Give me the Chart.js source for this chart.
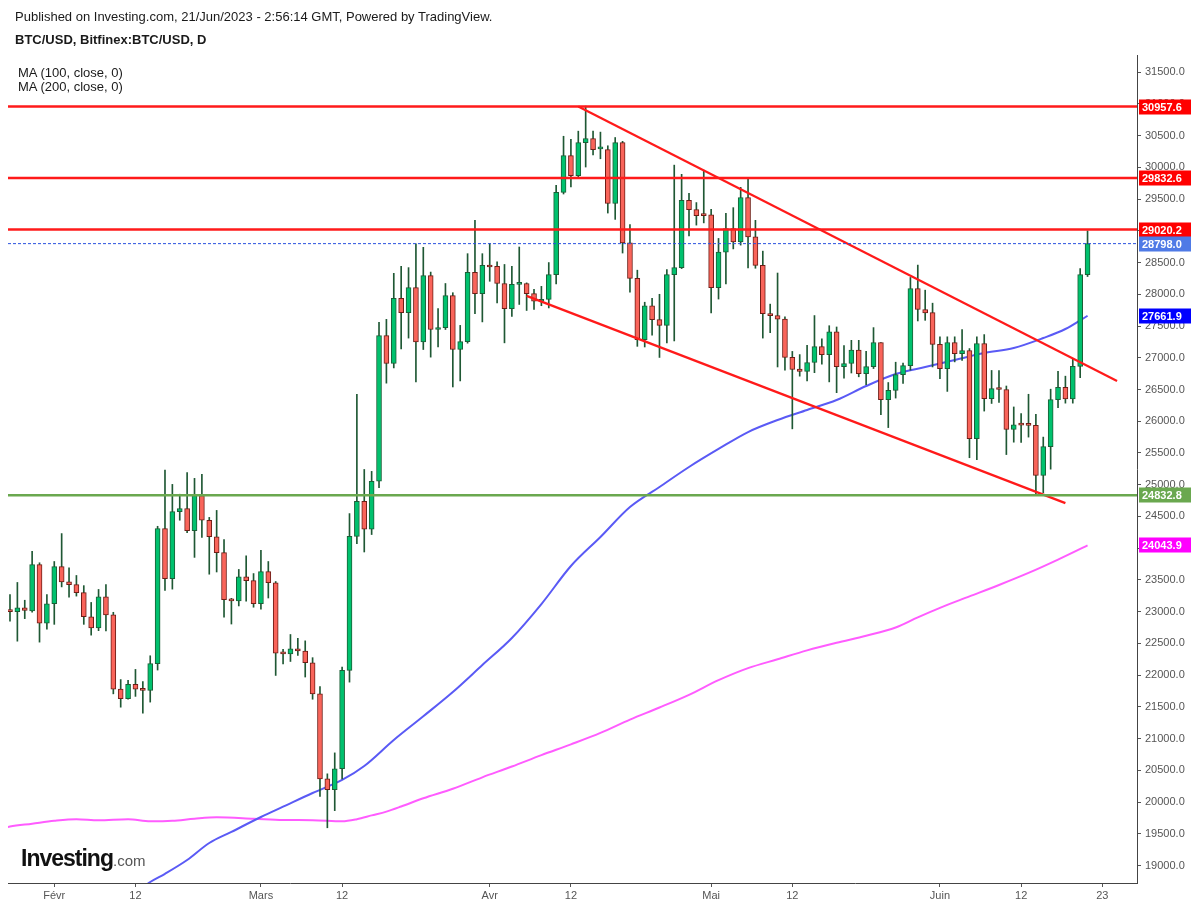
<!DOCTYPE html>
<html>
<head>
<meta charset="utf-8">
<title>BTC/USD, Bitfinex:BTC/USD, D</title>
<script src="https://cdn.jsdelivr.net/npm/chart.js@4.4.0/dist/chart.umd.min.js"></script>
<style>
  body { margin: 0; background: #fff; }
  #wrap { position: relative; width: 1197px; height: 907px; font-family: 'Liberation Sans', Arial, sans-serif; }
  #btcChart { position: absolute; left: 0; top: 0; }
  .txt { position: absolute; white-space: nowrap; color: #1a1a1a; }
</style>
</head>
<body>
<div id="wrap">
  <canvas id="btcChart" width="1197" height="907"></canvas>
  <div class="txt" style="left:15px;top:9px;font-size:13px">Published on Investing.com, 21/Jun/2023 - 2:56:14 GMT, Powered by TradingView.</div>
  <div class="txt" style="left:15px;top:32px;font-size:13px;font-weight:bold">BTC/USD, Bitfinex:BTC/USD, D</div>
  <div class="txt" style="left:18px;top:66px;font-size:13px;line-height:14px">MA (100, close, 0)<br>MA (200, close, 0)</div>
  <div class="txt" style="left:21px;top:845px;color:#111"><span style="font-size:23px;font-weight:bold;letter-spacing:-1px">Investing</span><span style="font-size:15px;color:#555">.com</span></div>
</div>
<script>
// daily candles, Bitfinex BTC/USD
const year = 2023;
const days = [
  '01-26','01-27','01-28','01-29','01-30','01-31',
  '02-01','02-02','02-03','02-04','02-05','02-06','02-07','02-08','02-09','02-10','02-11','02-12','02-13','02-14',
  '02-15','02-16','02-17','02-18','02-19','02-20','02-21','02-22','02-23','02-24','02-25','02-26','02-27','02-28',
  '03-01','03-02','03-03','03-04','03-05','03-06','03-07','03-08','03-09','03-10','03-11','03-12','03-13','03-14','03-15','03-16',
  '03-17','03-18','03-19','03-20','03-21','03-22','03-23','03-24','03-25','03-26','03-27','03-28','03-29','03-30','03-31',
  '04-01','04-02','04-03','04-04','04-05','04-06','04-07','04-08','04-09','04-10','04-11','04-12','04-13','04-14','04-15',
  '04-16','04-17','04-18','04-19','04-20','04-21','04-22','04-23','04-24','04-25','04-26','04-27','04-28','04-29','04-30',
  '05-01','05-02','05-03','05-04','05-05','05-06','05-07','05-08','05-09','05-10','05-11','05-12','05-13','05-14','05-15','05-16',
  '05-17','05-18','05-19','05-20','05-21','05-22','05-23','05-24','05-25','05-26','05-27','05-28','05-29','05-30','05-31',
  '06-01','06-02','06-03','06-04','06-05','06-06','06-07','06-08','06-09','06-10','06-11','06-12','06-13','06-14','06-15',
  '06-16','06-17','06-18','06-19','06-20','06-21'
];
const opens = [
  23030, 23000, 23060, 23010, 23740, 22820, 23125, 23710, 23470, 23425,
  23300, 22920, 22745, 23235, 22950, 21780, 21630, 21855, 21790, 21760,
  22180, 24310, 23520, 24575, 24625, 24275, 24830, 24440, 24180, 23930,
  23190, 23170, 23550, 23490, 23125, 23630, 23455, 22350, 22335, 22415,
  22380, 22195, 21705, 20365, 20195, 20525, 22075, 24185, 24740, 24300,
  25055, 27350, 26910, 27935, 27710, 28105, 27250, 28295, 27445, 27475,
  27980, 27130, 27255, 28345, 28010, 28460, 28440, 28170, 27775, 28155,
  28170, 28010, 27890, 27920, 28310, 29605, 30185, 29870, 30390, 30455,
  30290, 30280, 29430, 30390, 28810, 28250, 27285, 27820, 27600, 27510,
  28310, 28420, 29480, 29335, 29250, 29250, 28105, 28665, 29035, 28825,
  29525, 28905, 28455, 27695, 27665, 27610, 27005, 26820, 26785, 26925,
  27175, 27050, 27410, 26860, 26910, 27120, 26750, 26860, 27240, 26340,
  26485, 26735, 26875, 28090, 27760, 27710, 27210, 26830, 27240, 27065,
  27115, 25725, 27225, 26355, 26515, 26500, 25870, 25945, 25940, 25935,
  25145, 25600, 26340, 26535, 26350, 26865, 28310
];
const highs = [
  23270, 23460, 23180, 23950, 23770, 23270, 23790, 24230, 23690, 23570,
  23410, 23145, 23350, 23425, 22990, 21930, 21920, 22090, 21900, 22305,
  24345, 25230, 25005, 24850, 25190, 25100, 25165, 24485, 24595, 24135,
  23210, 23665, 23880, 23600, 23965, 23790, 23475, 22405, 22640, 22580,
  22540, 22275, 21820, 20445, 20775, 22125, 24545, 26425, 25240, 25210,
  27560, 27605, 28330, 28440, 28420, 28795, 28740, 28350, 27775, 28170,
  28025, 27510, 28640, 29165, 28640, 28800, 28510, 28470, 28440, 28745,
  28180, 28080, 28125, 28500, 29715, 30490, 30440, 30570, 30965, 30570,
  30555, 30340, 30470, 30410, 29100, 28380, 27875, 27935, 28000, 28390,
  30035, 29890, 29590, 29445, 29955, 29340, 28880, 29275, 29365, 29685,
  29825, 29165, 28680, 27845, 28335, 27645, 27100, 27050, 27195, 27665,
  27300, 27505, 27485, 27190, 27275, 27275, 27100, 27475, 27240, 26610,
  26930, 26915, 28265, 28460, 28065, 27860, 27330, 27330, 27330, 27445,
  27145, 27330, 27365, 26800, 26800, 26555, 26225, 26120, 26425, 26110,
  25750, 26505, 26785, 26710, 26985, 28405, 29000
];
const lows = [
  22850, 22535, 22890, 22990, 22520, 22725, 22800, 23390, 23230, 23245,
  22800, 22630, 22700, 22695, 21705, 21495, 21620, 21665, 21400, 21575,
  22080, 23335, 23355, 24440, 24245, 23855, 24170, 23590, 23625, 22915,
  22805, 23090, 23165, 23070, 23040, 23215, 21995, 22175, 22215, 22310,
  21970, 21620, 20090, 19595, 19865, 20365, 21890, 24070, 23940, 24215,
  24955, 26600, 26840, 27140, 27310, 26620, 27130, 27010, 27170, 27445,
  26540, 26635, 27230, 27695, 27565, 28205, 27865, 27235, 27650, 27840,
  27745, 27760, 27820, 27785, 28165, 29580, 29690, 29830, 30005, 30195,
  30135, 29280, 29180, 28650, 28035, 27180, 27170, 27355, 27005, 27235,
  27265, 28405, 28920, 29090, 29125, 27705, 27925, 28165, 28715, 28775,
  28415, 28410, 27310, 27395, 26855, 26805, 25880, 26710, 26635, 26765,
  26900, 26620, 26450, 26680, 26760, 26700, 26575, 26830, 26105, 25900,
  26365, 26595, 26805, 27580, 27590, 26855, 26670, 26470, 26935, 26960,
  25425, 25395, 26160, 26280, 26295, 25475, 25670, 25665, 25750, 24860,
  24875, 25245, 26215, 26285, 26285, 26685, 28280
];
const closes = [
  23000, 23060, 23020, 23740, 22820, 23125, 23710, 23470, 23425, 23300,
  22920, 22745, 23235, 22950, 21780, 21630, 21855, 21780, 21760, 22180,
  24310, 23520, 24575, 24625, 24275, 24830, 24440, 24180, 23930, 23190,
  23170, 23550, 23490, 23125, 23630, 23455, 22345, 22335, 22415, 22380,
  22195, 21705, 20365, 20195, 20525, 22075, 24185, 24740, 24300, 25055,
  27350, 26910, 27935, 27710, 28105, 27250, 28295, 27445, 27475, 27980,
  27130, 27255, 28345, 28010, 28455, 28430, 28170, 27775, 28155, 28170,
  28010, 27890, 27920, 28310, 29605, 30185, 29870, 30390, 30455, 30280,
  30300, 29430, 30390, 28810, 28250, 27285, 27820, 27600, 27510, 28310,
  28420, 29480, 29335, 29240, 29240, 28105, 28665, 29035, 28825, 29525,
  28905, 28455, 27695, 27665, 27610, 27005, 26815, 26785, 26925, 27175,
  27050, 27410, 26860, 26910, 27120, 26750, 26860, 27240, 26340, 26485,
  26735, 26875, 28090, 27760, 27705, 27210, 26830, 27240, 27065, 27115,
  25725, 27225, 26355, 26515, 26500, 25870, 25945, 25940, 25935, 25145,
  25600, 26340, 26535, 26350, 26865, 28310, 28798
];

// moving averages
const ma100Days = ['02-12','02-14','02-16','02-19','02-22','02-25','03-01','03-04','03-08','03-12','03-15','03-19',
  '03-23','03-27','03-31','04-04','04-08','04-12','04-16','04-20','04-24','04-28','05-02','05-06','05-10','05-14',
  '05-18','05-22','05-26','05-30','06-03','06-07','06-11','06-15','06-18','06-21'];
const ma100Values = [18560, 18741, 18870, 19087, 19355, 19530, 19765, 19927, 20143, 20348, 20568, 20978,
  21352, 21734, 22159, 22585, 23120, 23719, 24176, 24649, 24964, 25279, 25563, 25830, 26019, 26177,
  26335, 26555, 26744, 26854, 26965, 27075, 27154, 27311, 27453, 27662];
const ma200Days = ['01-25','01-26','01-29','02-01','02-04','02-07','02-11','02-14','02-17','02-20','02-23','02-28',
  '03-04','03-08','03-12','03-14','03-16','03-18','03-20','03-23','03-27','03-31','04-04','04-08','04-12','04-16',
  '04-20','04-24','04-28','05-02','05-06','05-10','05-14','05-18','05-22','05-26','05-29','06-01','06-05','06-09',
  '06-13','06-17','06-21'];
const ma200Values = [19590, 19615, 19660, 19705, 19730, 19713, 19729, 19697, 19705, 19738, 19760, 19738,
  19717, 19715, 19697, 19730, 19790, 19850, 19930, 20060, 20210, 20390, 20560, 20740, 20910, 21090,
  21300, 21490, 21690, 21920, 22110, 22250, 22390, 22510, 22620, 22750, 22910, 23060, 23240, 23420,
  23610, 23820, 24044];

// drawings
const resistanceLevels = [30957.6, 29832.6, 29020.2];
const supportLevels = [24832.8];
const lastPrice = 28798.0;
const upperTrendDays = ['04-13', '06-25'];
const upperTrendValues = [30960, 26635];
const lowerTrendDays = ['04-06', '06-18'];
const lowerTrendValues = [27975, 24710];

// right-hand price tags
const tagValues = [30957.6, 29832.6, 29020.2, 28798.0, 27661.9, 24832.8, 24043.9];
const tagColors = ['#ff0000', '#ff0000', '#ff0000', '#4f7ae6', '#0000ff', '#6aa84f', '#ff00ff'];

// axis ticks
const xTickDays = ['02-01', '02-12', '03-01', '03-12', '04-01', '04-12', '05-01', '05-12', '06-01', '06-12', '06-23'];
const xTickLabels = ['Févr', '12', 'Mars', '12', 'Avr', '12', 'Mai', '12', 'Juin', '12', '23'];
const yTicks = [19000, 19500, 20000, 20500, 21000, 21500, 22000, 22500, 23000, 23500, 24000, 24500, 25000,
  25500, 26000, 26500, 27000, 27500, 28000, 28500, 29000, 29500, 30000, 30500, 31000, 31500];

const origin = Date.UTC(year, 0, 26);
const dayIndex = s => (Date.UTC(year, +s.slice(0, 2) - 1, +s.slice(3, 5)) - origin) / 86400000;

const X_MIN = -0.27, X_MAX = 152.7;
const greenFill = '#00c16e', greenLine = '#1b5e36';
const redFill = '#f9645a', redLine = '#6e1d16';
const wickColor = '#1f5834';

const up = closes.map((c, i) => c >= opens[i]);
const toPts = (ds, vs) => ds.map((d, i) => ({ x: dayIndex(d), y: vs[i] }));
const flat = v => [{ x: X_MIN, y: v }, { x: X_MAX, y: v }];

const priceTags = {
  id: 'priceTags',
  afterDraw(chart) {
    const { ctx, chartArea, scales: { y } } = chart;
    ctx.save();
    ctx.font = 'bold 11px "Liberation Sans", Arial, sans-serif';
    ctx.textBaseline = 'middle';
    tagValues.forEach((v, i) => {
      const py = Math.round(y.getPixelForValue(v));
      ctx.fillStyle = tagColors[i];
      ctx.fillRect(chartArea.right + 2, py - 7.5, 52, 15);
      ctx.fillStyle = '#fff';
      ctx.fillText(v.toFixed(1), chartArea.right + 5, py + 0.5);
    });
    ctx.restore();
  }
};

Chart.defaults.font.family = '"Liberation Sans", Arial, sans-serif';

const ctx = document.getElementById('btcChart').getContext('2d');
const btcChart = new Chart(ctx, {
  type: 'bar',
  data: {
    datasets: [
      ...resistanceLevels.map(v => ({
        type: 'line', data: flat(v), borderColor: '#ff1a1a', borderWidth: 2.5,
        pointRadius: 0, order: 0
      })),
      ...supportLevels.map(v => ({
        type: 'line', data: flat(v), borderColor: '#6aa84f', borderWidth: 2.5,
        pointRadius: 0, order: 0
      })),
      {
        type: 'line', data: flat(lastPrice), borderColor: '#2a52de', borderWidth: 1,
        borderDash: [3, 2], pointRadius: 0, order: 0
      },
      {
        type: 'line', data: toPts(upperTrendDays, upperTrendValues), borderColor: '#ff1a1a',
        borderWidth: 2.2, pointRadius: 0, order: 0
      },
      {
        type: 'line', data: toPts(lowerTrendDays, lowerTrendValues), borderColor: '#ff1a1a',
        borderWidth: 2.2, pointRadius: 0, order: 0
      },
      {
        // bodies
        type: 'bar',
        data: days.map((d, i) => ({ x: dayIndex(d), y: [opens[i], closes[i]] })),
        backgroundColor: up.map(u => u ? greenFill : redFill),
        borderColor: up.map(u => u ? greenLine : redLine),
        borderWidth: 1,
        borderSkipped: false,
        barThickness: 5,
        minBarLength: 2,
        grouped: false,
        order: 1
      },
      {
        // wicks
        type: 'bar',
        data: days.map((d, i) => ({ x: dayIndex(d), y: [lows[i], highs[i]] })),
        backgroundColor: wickColor,
        borderWidth: 0,
        barThickness: 1,
        grouped: false,
        order: 2
      },
      {
        type: 'line', data: toPts(ma100Days, ma100Values), borderColor: '#5a5af5',
        borderWidth: 2, pointRadius: 0, cubicInterpolationMode: 'monotone', order: 3
      },
      {
        type: 'line', data: toPts(ma200Days, ma200Values), borderColor: '#ff5cff',
        borderWidth: 2, pointRadius: 0, cubicInterpolationMode: 'monotone', order: 3
      }
    ]
  },
  options: {
    responsive: false,
    animation: false,
    events: [],
    layout: { padding: { left: 8, top: 55, right: 0, bottom: 0 } },
    plugins: {
      legend: { display: false },
      tooltip: { enabled: false }
    },
    scales: {
      x: {
        type: 'linear',
        min: X_MIN,
        max: X_MAX,
        offset: false,
        grid: { drawOnChartArea: false, drawTicks: true, tickLength: 4, color: '#555', offset: false },
        border: { display: true, color: '#444', width: 1 },
        ticks: {
          autoSkip: false, maxRotation: 0, padding: 2, color: '#555',
          font: { size: 11 },
          callback: (v, i) => xTickLabels[i]
        },
        afterBuildTicks: s => { s.ticks = xTickDays.map(d => ({ value: dayIndex(d) })); },
        afterFit: s => { s.height = 24; }
      },
      y: {
        type: 'linear',
        position: 'right',
        min: 18725,
        max: 31770,
        beginAtZero: false,
        grid: { drawOnChartArea: false, drawTicks: true, tickLength: 4, color: '#555' },
        border: { display: true, color: '#444', width: 1 },
        ticks: {
          padding: 4, color: '#555',
          font: { size: 11 },
          callback: v => v.toFixed(1)
        },
        afterBuildTicks: s => { s.ticks = yTicks.map(v => ({ value: v })); },
        afterFit: s => { s.width = 60; }
      }
    }
  },
  plugins: [priceTags]
});
</script>
</body>
</html>
